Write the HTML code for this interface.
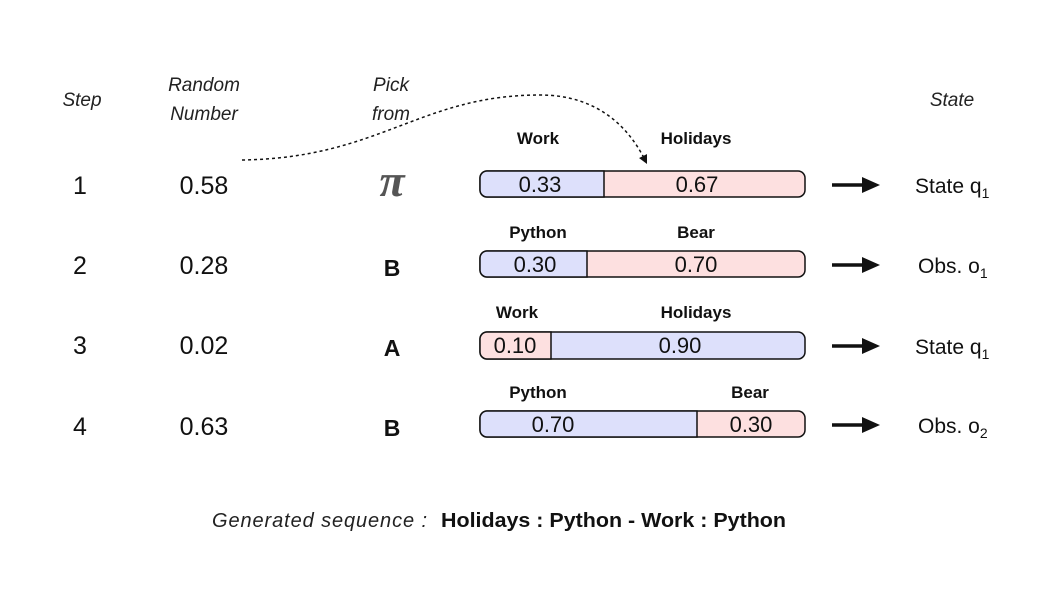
<!DOCTYPE html>
<html><head><meta charset="utf-8"><style>
html,body{margin:0;padding:0;background:#fff;}
svg{display:block;font-family:"Liberation Sans",sans-serif;}
.it{font-style:italic;font-size:19px;fill:#222;}
.n{font-size:25px;fill:#111;}
.b{font-weight:bold;font-size:17px;fill:#111;}
.v{font-size:22px;fill:#111;}
.s{font-size:21px;fill:#111;}
</style></head><body>
<svg width="1041" height="594" viewBox="0 0 1041 594">
<defs>
<marker id="ah2" markerWidth="6" markerHeight="6" refX="3" refY="3" orient="auto"><path d="M0,0 L6,3 L0,6 z" fill="#111"/></marker></defs>
<text class="it" x="82" y="106" text-anchor="middle">Step</text>
<text class="it" x="204" y="91" text-anchor="middle">Random</text>
<text class="it" x="204" y="120" text-anchor="middle">Number</text>
<text class="it" x="391" y="91" text-anchor="middle">Pick</text>
<text class="it" x="391" y="120" text-anchor="middle">from</text>
<text class="it" x="952" y="106" text-anchor="middle">State</text>
<path d="M242,160 C380,158 420,95 540,95 C600,95 630,130 645,160" fill="none" stroke="#111" stroke-width="1.5" stroke-dasharray="3,3" marker-end="url(#ah2)"/>
<g class="n" text-anchor="middle">
<text x="80" y="194">1</text><text x="80" y="274">2</text><text x="80" y="354">3</text><text x="80" y="435">4</text>
<text x="204" y="194">0.58</text><text x="204" y="274">0.28</text><text x="204" y="354">0.02</text><text x="204" y="435">0.63</text>
</g>
<text x="392" y="196" text-anchor="middle" style="font-size:46px;font-weight:bold;fill:#555;font-family:'Liberation Serif',serif;font-style:italic">π</text>
<text x="392" y="276" text-anchor="middle" style="font-size:23px;font-weight:bold;fill:#111">B</text>
<text x="392" y="356" text-anchor="middle" style="font-size:23px;font-weight:bold;fill:#111">A</text>
<text x="392" y="436" text-anchor="middle" style="font-size:23px;font-weight:bold;fill:#111">B</text>
<g stroke="#111" stroke-width="1.5">
<rect x="480" y="171" width="325" height="26" rx="7" fill="#fde0e0"/>
<path d="M604,171 H487 a7,7 0 0 0 -7,7 V190 a7,7 0 0 0 7,7 H604 z" fill="#dde0fb"/>
<rect x="480" y="251" width="325" height="26" rx="7" fill="#fde0e0"/>
<path d="M587,251 H487 a7,7 0 0 0 -7,7 V270 a7,7 0 0 0 7,7 H587 z" fill="#dde0fb"/>
<rect x="480" y="332" width="325" height="27" rx="7" fill="#dde0fb"/>
<path d="M551,332 H487 a7,7 0 0 0 -7,7 V352 a7,7 0 0 0 7,7 H551 z" fill="#fde0e0"/>
<rect x="480" y="411" width="325" height="26" rx="7" fill="#fde0e0"/>
<path d="M697,411 H487 a7,7 0 0 0 -7,7 V430 a7,7 0 0 0 7,7 H697 z" fill="#dde0fb"/>
</g>
<g class="v" text-anchor="middle">
<text x="540" y="192">0.33</text><text x="697" y="192">0.67</text>
<text x="535" y="272">0.30</text><text x="696" y="272">0.70</text>
<text x="515" y="353">0.10</text><text x="680" y="353">0.90</text>
<text x="553" y="432">0.70</text><text x="751" y="432">0.30</text>
</g>
<g class="b" text-anchor="middle">
<text x="538" y="144">Work</text><text x="696" y="144">Holidays</text>
<text x="538" y="238">Python</text><text x="696" y="238">Bear</text>
<text x="517" y="318">Work</text><text x="696" y="318">Holidays</text>
<text x="538" y="398">Python</text><text x="750" y="398">Bear</text>
</g>
<g stroke="#111" stroke-width="3.5">
<line x1="832" y1="185" x2="864" y2="185"/><line x1="832" y1="265" x2="864" y2="265"/>
<line x1="832" y1="346" x2="864" y2="346"/><line x1="832" y1="425" x2="864" y2="425"/>
</g>
<g fill="#111">
<path d="M862,177 L880,185 L862,193z"/><path d="M862,257 L880,265 L862,273z"/>
<path d="M862,338 L880,346 L862,354z"/><path d="M862,417 L880,425 L862,433z"/>
</g>
<g class="s">
<text x="915" y="193">State q<tspan font-size="14" dy="5">1</tspan></text>
<text x="918" y="273">Obs. o<tspan font-size="14" dy="5">1</tspan></text>
<text x="915" y="354">State q<tspan font-size="14" dy="5">1</tspan></text>
<text x="918" y="433">Obs. o<tspan font-size="14" dy="5">2</tspan></text>
</g>
<text x="212" y="527" textLength="215" lengthAdjust="spacing" style="font-size:20px;font-style:italic;fill:#222">Generated sequence :</text>
<text x="441" y="527" textLength="345" lengthAdjust="spacingAndGlyphs" style="font-size:20px;font-weight:bold;fill:#111">Holidays : Python - Work : Python</text>
</svg>
</body></html>
